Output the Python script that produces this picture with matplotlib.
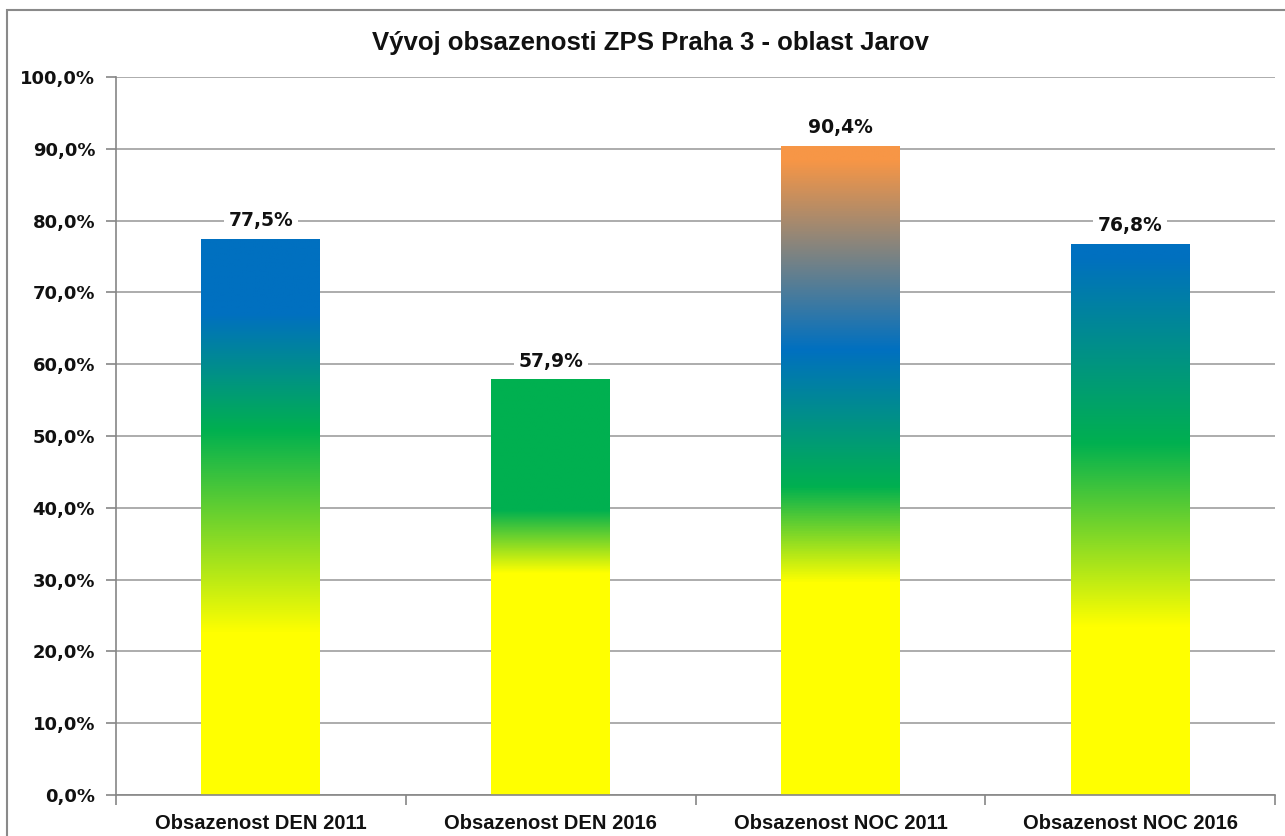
import matplotlib

matplotlib.use("Agg")

import matplotlib.pyplot as plt
import numpy as np
from matplotlib.colors import LinearSegmentedColormap, to_rgb
from matplotlib.patches import Rectangle
from matplotlib.ticker import FuncFormatter, MultipleLocator

categories = ["Obsazenost DEN 2011", "Obsazenost DEN 2016",
              "Obsazenost NOC 2011", "Obsazenost NOC 2016"]
values = [77.5, 57.9, 90.4, 76.8]
labels = ["77,5%", "57,9%", "90,4%", "76,8%"]
title = "Vývoj obsazenosti ZPS Praha 3 - oblast Jarov"

YELLOW = "#FFFF00"
GREEN = "#00B050"
BLUE = "#0070C0"
ORANGE = "#F79646"

# gradient stops per bar, (height in %, colour)
gradients = [
    [(0, YELLOW), (22.5, YELLOW), (50.8, GREEN), (67.0, BLUE), (77.5, BLUE)],
    [(0, YELLOW), (30.9, YELLOW), (39.7, GREEN), (57.9, GREEN)],
    [(0, YELLOW), (29.5, YELLOW), (42.9, GREEN), (62.0, BLUE), (88.4, ORANGE), (90.4, ORANGE)],
    [(0, YELLOW), (23.4, YELLOW), (49.0, GREEN), (75.0, BLUE), (76.8, BLUE)],
]

arial = ["Liberation Sans", "DejaVu Sans"]
wide = ["DejaVu Sans"]

W, H = 1285, 836
fig = plt.figure(figsize=(W / 100, H / 100), dpi=100)
ax = fig.add_axes([116 / W, 1 - 795 / H, (1275 - 116) / W, (795 - 77) / H])

# outer chart frame
fig.patches.append(Rectangle((7 / W, -0.05), 1.1, 1 - 10 / H + 0.05,
                             transform=fig.transFigure, fill=False,
                             edgecolor="#8a8a8a", linewidth=1.5))

x = np.arange(len(categories))
bars = ax.bar(x, values, width=0.41, color="none", zorder=2)

for bar, stops in zip(bars, gradients):
    top = bar.get_height()
    pos = [h / top for h, _ in stops]
    cmap = LinearSegmentedColormap.from_list(
        "g", list(zip(pos, [to_rgb(c) for _, c in stops])))
    grad = np.linspace(0, 1, 512).reshape(-1, 1)
    x0 = bar.get_x()
    im = ax.imshow(grad, cmap=cmap, aspect="auto", origin="lower",
                   extent=[x0, x0 + bar.get_width(), 0, top], zorder=2,
                   interpolation="bilinear")
    im.set_clip_path(bar)

for bar, lab in zip(bars, labels):
    ax.annotate(lab, (bar.get_x() + bar.get_width() / 2, bar.get_height()),
                xytext=(0, 13), textcoords="offset points", ha="center",
                va="center", fontsize=13.5, fontweight="bold", family=wide,
                color="#111111", zorder=4,
                bbox=dict(boxstyle="square,pad=0.25", fc="white", ec="none"))

ax.set_xlim(-0.5, len(categories) - 0.5)
ax.set_ylim(0, 100)
ax.yaxis.set_major_locator(MultipleLocator(10))
ax.yaxis.set_major_formatter(FuncFormatter(lambda v, p: f"{v:.1f}%".replace(".", ",")))
ax.grid(axis="y", color="#a6a6a6", linewidth=1.3, zorder=1)
ax.set_axisbelow(True)

ax.set_xticks(x)
ax.set_xticklabels(categories, fontsize=14.5, fontweight="bold", family=arial)
ax.tick_params(axis="x", length=0, pad=14)
ax.set_xticks(np.arange(-0.5, len(categories)), minor=True)
ax.tick_params(axis="x", which="minor", length=7, color="#868686", width=1.2)
ax.tick_params(axis="y", length=7, color="#868686", width=1.2, pad=8)
for t in ax.get_yticklabels():
    t.set_fontsize(13)
    t.set_fontweight("bold")
    t.set_family(wide)
    t.set_color("#111111")
for t in ax.get_xticklabels():
    t.set_color("#111111")

for side in ["top", "right"]:
    ax.spines[side].set_visible(False)
for side in ["left", "bottom"]:
    ax.spines[side].set_color("#868686")
    ax.spines[side].set_linewidth(1.2)

fig.text(650 / W, 1 - 43 / H, title, ha="center", va="center",
         fontsize=18.5, fontweight="bold", family=arial, color="#111111")

fig.savefig("out.png", dpi=100)
